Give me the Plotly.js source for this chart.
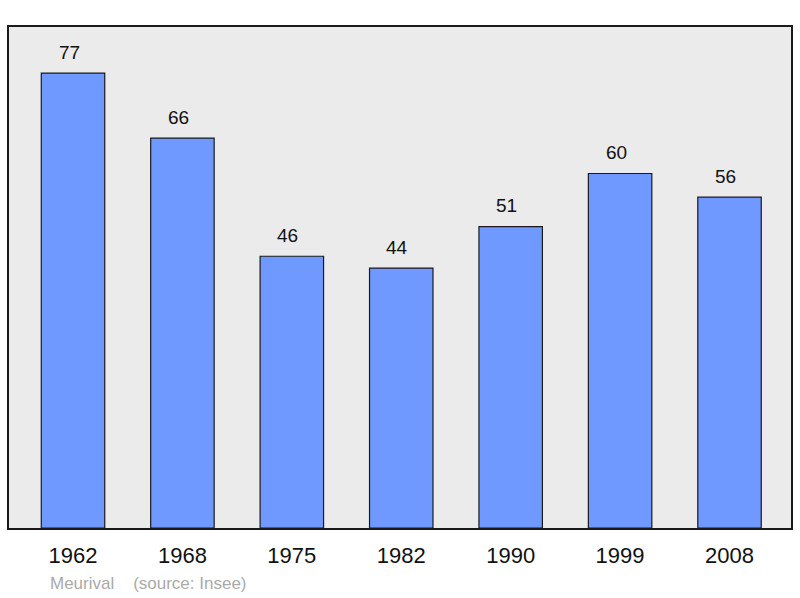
<!DOCTYPE html>
<html>
<head>
<meta charset="utf-8">
<script src="https://cdn.plot.ly/plotly-3.0.1.min.js"></script>
<style>
  html, body { margin: 0; padding: 0; background: #fff; }
  #chart { width: 800px; height: 598px; }
</style>
</head>
<body>
<div id="chart"></div>
<script>
// ── Données (population par recensement) ──────────────────
const years  = ['1962', '1968', '1975', '1982', '1990', '1999', '2008'];
const pop    = [77, 66, 46, 44, 51, 60, 56];
const source = 'Meurival    (source: Insee)';

const W = 800, H = 598;
const margin = { l: 9, r: 9, t: 27, b: 70 };
const FONT = 'Liberation Sans, Arial, sans-serif';

const trace = {
  x: years,
  y: pop,
  type: 'bar',
  width: 0.58,
  marker: { color: '#7099ff', line: { color: '#1a1a1a', width: 1.2 } },
  hoverinfo: 'x+y',
};

// valeurs au-dessus des barres (x = index de catégorie, sinon '1962' est lu comme un index)
const valueLabels = years.map((yr, i) => ({
  x: i, y: pop[i],
  xref: 'x', yref: 'y',
  text: String(pop[i]),
  showarrow: false,
  yanchor: 'middle',
  yshift: 21,
  xshift: -4,
  font: { family: FONT, size: 19, color: '#111' },
}));

const layout = {
  width: W, height: H,
  margin,
  paper_bgcolor: '#ffffff',
  plot_bgcolor: '#ebebeb',
  showlegend: false,
  xaxis: {
    type: 'category',
    range: [-0.585, 6.562],
    showgrid: false, zeroline: false,
    showline: true, mirror: true, linecolor: '#1a1a1a', linewidth: 2,
    ticks: '',
    ticklabelstandoff: 7,
    tickfont: { family: FONT, size: 22, color: '#111' },
  },
  yaxis: {
    range: [0, 84.8],
    showgrid: false, zeroline: false,
    showline: true, mirror: true, linecolor: '#1a1a1a', linewidth: 2,
    showticklabels: false, ticks: '',
  },
  annotations: [
    ...valueLabels,
    {
      xref: 'paper', yref: 'paper',
      x: (48 - margin.l) / (W - margin.l - margin.r),
      y: -(583 - (H - margin.b)) / (H - margin.t - margin.b),
      xanchor: 'left', yanchor: 'middle',
      text: source, showarrow: false,
      font: { family: FONT, size: 17, color: '#aaaaaa' },
    },
  ],
};

Plotly.newPlot('chart', [trace], layout, { displayModeBar: false, staticPlot: true });
</script>
</body>
</html>
